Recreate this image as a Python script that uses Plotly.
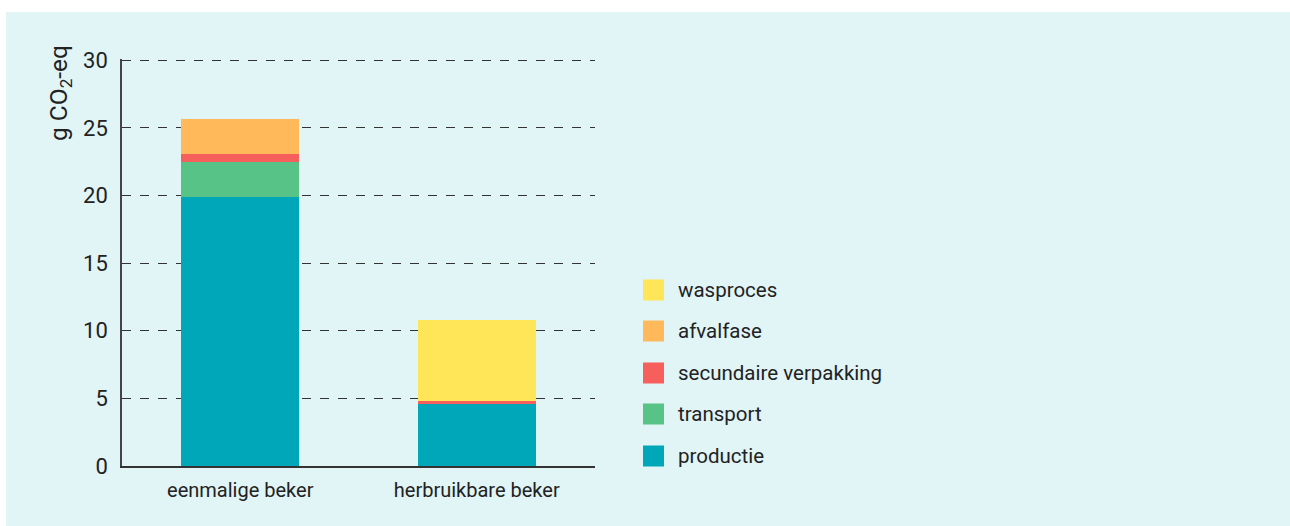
import plotly.graph_objects as go

categories = ["eenmalige beker", "herbruikbare beker"]
series_names = ["productie", "transport", "secundaire verpakking", "afvalfase", "wasproces"]
productie = [19.9, 4.65]
transport = [2.55, 0.0]
secundaire_verpakking = [0.6, 0.13]
afvalfase = [2.65, 0.0]
wasproces = [0.0, 6.0]
series_values = [productie, transport, secundaire_verpakking, afvalfase, wasproces]
colors = ["#00A7B8", "#58C386", "#F65F5B", "#FFB85A", "#FFE558"]
y_ticks = [0, 5, 10, 15, 20, 25, 30]

W, H = 1290, 526
L, R, T, B = 122, 695, 59, 60
pw, ph = W - L - R, H - T - B


def px_x(px):
    return (px - L) / pw


def px_y(py):
    return (H - B - py) / ph


FONT = "Roboto"
fig = go.Figure()
for name, vals, col in zip(series_names, series_values, colors):
    fig.add_trace(go.Bar(x=categories, y=vals, name=name, marker_color=col,
                         marker_line_width=0, width=0.5, showlegend=False))

shapes = [dict(type="rect", xref="paper", yref="paper", x0=px_x(6), x1=px_x(W + 5),
               y0=px_y(12), y1=px_y(H + 5), fillcolor="#E1F4F6", line_width=0, layer="below")]
annotations = [dict(text="g CO<sub>2</sub>-eq", xref="paper", yref="paper", x=px_x(60), y=px_y(93),
                    textangle=-90, showarrow=False, font=dict(family=FONT, size=24.5, color="#222"),
                    xanchor="center", yanchor="middle")]

# custom legend (reversed order, top = last series)
legend_y = [456, 414, 373, 331, 290]
for i, (name, col) in enumerate(zip(series_names, colors)):
    cy = legend_y[i]
    shapes.append(dict(type="rect", xref="paper", yref="paper", x0=px_x(643), x1=px_x(664),
                       y0=px_y(cy - 10.5), y1=px_y(cy + 10.5), fillcolor=col, line_width=0))
    annotations.append(dict(text=name, xref="paper", yref="paper", x=px_x(676), y=px_y(cy),
                            showarrow=False, xanchor="left", yanchor="middle",
                            font=dict(family=FONT, size=20.5, color="#222")))

fig.update_layout(
    width=W, height=H, margin=dict(l=L, r=R, t=T, b=B),
    paper_bgcolor="white", plot_bgcolor="rgba(0,0,0,0)",
    barmode="stack", bargap=0.5, showlegend=False,
    shapes=shapes, annotations=annotations,
    font=dict(family=FONT, color="#222"),
)
fig.update_xaxes(range=[-0.5, 1.5], showline=True, linecolor="#333", linewidth=2,
                 tickfont=dict(family=FONT, size=20, color="#222"), ticks="",
                 ticklabelstandoff=5, showgrid=False)
fig.update_yaxes(range=[0, 30.1], tickvals=y_ticks, showline=True, linecolor="#444", linewidth=1.5,
                 showgrid=True, gridcolor="#333", gridwidth=1, griddash="dash", zeroline=False,
                 tickfont=dict(family=FONT, size=22, color="#222"), ticks="", ticklabelstandoff=8)

fig.write_html("out.html", config={"displayModeBar": False},
               post_script="document.body.style.margin='0';document.body.style.padding='0';")
